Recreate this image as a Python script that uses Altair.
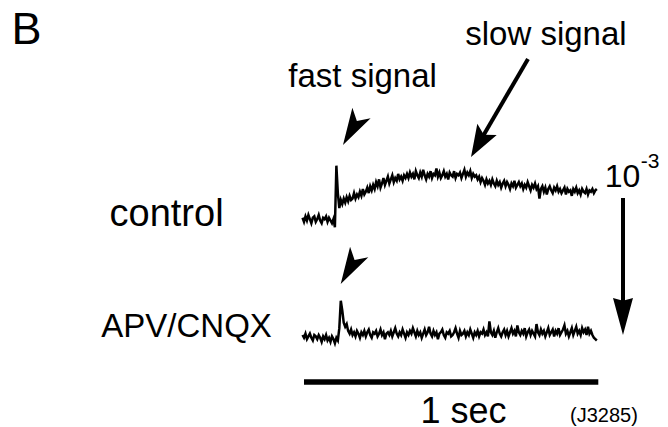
import altair as alt
import pandas as pd

# ---------------- data (signal in units of 1e-3 dF/F, time in s) ----------------
T_START = -0.005
DT = 0.005

control = [
    -0.02, -0.05, -0.01, -0.04, 0.00, -0.03, -0.06, -0.02, -0.01, -0.05, -0.03,
    0.00, -0.04, -0.06, -0.02, -0.03, -0.01, -0.05, -0.02, -0.04, -0.06, -0.03,
    -0.09,
    0.36,
    0.16,
    0.05,
    0.11, 0.08, 0.12, 0.09, 0.13, 0.10, 0.14, 0.11, 0.12, 0.16, 0.12,
    0.15, 0.13, 0.17, 0.14, 0.19, 0.15, 0.17, 0.20, 0.16, 0.21, 0.18,
    0.22, 0.19, 0.24, 0.21, 0.26, 0.20, 0.23, 0.27, 0.22, 0.25, 0.28, 0.23,
    0.26, 0.29, 0.24, 0.27, 0.25, 0.30, 0.26, 0.28, 0.25, 0.29, 0.27, 0.30,
    0.27, 0.31, 0.28, 0.30, 0.26, 0.32, 0.29, 0.27, 0.31, 0.28, 0.33, 0.29, 0.26, 0.30,
    0.28, 0.32, 0.27, 0.30, 0.29, 0.34, 0.28, 0.31, 0.27, 0.29, 0.32, 0.28, 0.30, 0.26,
    0.31, 0.29, 0.28, 0.32, 0.27, 0.30, 0.29, 0.31, 0.27, 0.30, 0.33, 0.28, 0.31, 0.29,
    0.32, 0.27, 0.30, 0.28, 0.29, 0.26, 0.28, 0.24, 0.27, 0.25, 0.22, 0.26, 0.23, 0.25,
    0.22, 0.26, 0.23, 0.21, 0.25, 0.22, 0.24, 0.20, 0.23, 0.25, 0.21, 0.24,
    0.22, 0.19, 0.23, 0.21, 0.25, 0.20, 0.22, 0.24, 0.21, 0.23, 0.19, 0.22,
    0.20, 0.24, 0.21, 0.18, 0.22, 0.20, 0.23, 0.19, 0.21, 0.12,
    0.19, 0.21, 0.17, 0.20, 0.15, 0.19, 0.21, 0.18, 0.16, 0.20, 0.18, 0.21, 0.17,
    0.19, 0.16, 0.18, 0.20, 0.15, 0.19, 0.17, 0.18, 0.14, 0.19, 0.17, 0.20, 0.16,
    0.18, 0.15, 0.19, 0.17, 0.16, 0.19, 0.15, 0.18, 0.17, 0.19, 0.16, 0.18, 0.19,
]

apv_cnqx = [
    0.00, -0.02, 0.01, -0.03, -0.01, 0.01, -0.02, -0.04, 0.00, -0.01, -0.03, 0.00, -0.02,
    -0.05, -0.01, -0.03, 0.00, -0.04, -0.02, -0.05, -0.01, -0.03, -0.06, -0.02, -0.04,
    0.05, 0.25, 0.18, 0.09, 0.06, 0.08, 0.03,
    0.01, 0.04, 0.00, 0.02, -0.01, 0.03, 0.01, -0.02, 0.02, 0.00, 0.03, -0.01, 0.02,
    0.04, 0.00, -0.02, 0.02, 0.01, 0.03, -0.01, 0.01, 0.04, 0.00, 0.02, -0.03, 0.01,
    0.02, 0.00, 0.03, -0.01, 0.02, 0.05, 0.01, -0.01, 0.02, 0.00, 0.04, 0.01, -0.02,
    0.02, 0.00, 0.03, 0.01, 0.05, 0.02, -0.01, 0.03, 0.00, 0.02, -0.02, 0.01, 0.04,
    0.00, 0.02, 0.06, 0.01, -0.01, 0.03, 0.00, 0.02, -0.03, 0.01, 0.02, 0.04, 0.00,
    -0.02, 0.02, 0.01, 0.03, -0.01, 0.00, 0.02, 0.05, 0.01, -0.02, 0.03, 0.00, 0.01,
    0.03, -0.01, 0.02, 0.00, 0.04, 0.01, -0.02, 0.02, 0.00, 0.03, -0.01, 0.02, 0.01,
    0.04, 0.00, 0.02, -0.01, 0.10, 0.02, 0.00, 0.03, -0.02, 0.02, 0.05, 0.01, -0.01,
    0.02, 0.04, 0.00, 0.03, -0.01, 0.02, 0.05, 0.01, 0.03, -0.01, 0.07, 0.02, 0.00,
    0.03, 0.01, 0.05, -0.01, 0.02, 0.04, 0.00, 0.03, 0.01, -0.01, 0.08, 0.02, 0.00,
    0.04, 0.01, 0.03, -0.01, 0.02, 0.05, 0.00, 0.02, 0.04, -0.01, 0.03, 0.01, 0.05,
    0.00, 0.02, 0.04, 0.07, 0.01, 0.03, -0.01, 0.02, 0.05, 0.00, 0.03, 0.06, 0.01,
    0.03, 0.00, 0.05, 0.02, 0.04, 0.00, 0.06, 0.01, 0.03, 0.00, -0.02, -0.03, -0.04,
]

APV_OFFSET = -0.876   # vertical display offset of the lower trace

label_text = ["B", "fast signal", "slow signal", "control", "APV/CNQX",
              "10", "-3", "1 sec", "(J3285)"]
label_x = [-0.943, 0.199, 0.822, -0.467, -0.399, 1.082, 1.176, 0.542, 1.019]
label_y = [1.248, 0.934, 1.241, -0.078, -0.890, 0.204, 0.341, -1.516, -1.509]
label_size = [45, 33, 33, 38, 33, 32, 21, 36, 20]

# ---------------- tables ----------------
rows = []
for i, v in enumerate(control):
    rows.append({"t": T_START + i * DT, "v": v, "trace": "control"})
for i, v in enumerate(apv_cnqx):
    rows.append({"t": T_START + i * DT, "v": v + APV_OFFSET, "trace": "APV/CNQX"})
traces = pd.DataFrame(rows)

labels = pd.DataFrame({"x": label_x, "y": label_y, "text": label_text, "size": label_size})

shafts = pd.DataFrame({
    "x": [0.7611, 1.0839, 0.0],
    "y": [1.1387, 0.1241, -1.219],
    "x2": [0.5946, 1.0839, 1.0],
    "y2": [0.5255, -0.75, -1.219],
    "w": [4, 4, 5.5],
})

fast_heads = pd.DataFrame({"x": [0.1325, 0.1247], "y": [0.5109, -0.5036], "angle": [210, 210]})
slow_head = pd.DataFrame({"x": [0.5675], "y": [0.4234], "angle": [210]})
vert_head = pd.DataFrame({"x": [1.0839], "y": [-0.8759], "angle": [180]})

XS = alt.Scale(domain=[-1.00578, 1.20965], nice=False, zero=False)
YS = alt.Scale(domain=[-1.54745, 1.51095], nice=False, zero=False)
FONT = "Liberation Sans"

line = alt.Chart(traces).mark_line(color="black", strokeWidth=2.5).encode(
    x=alt.X("t:Q", scale=XS, axis=None),
    y=alt.Y("v:Q", scale=YS, axis=None),
    detail="trace:N",
)

text = alt.Chart(labels).mark_text(
    font=FONT, color="black", align="center", baseline="alphabetic"
).encode(
    x=alt.X("x:Q", scale=XS, axis=None),
    y=alt.Y("y:Q", scale=YS, axis=None),
    text="text:N",
    size=alt.Size("size:Q", scale=None, legend=None),
)

rules = alt.Chart(shafts).mark_rule(color="black", strokeCap="butt").encode(
    x=alt.X("x:Q", scale=XS, axis=None),
    y=alt.Y("y:Q", scale=YS, axis=None),
    x2="x2:Q",
    y2="y2:Q",
    strokeWidth=alt.StrokeWidth("w:Q", scale=None, legend=None),
)


def heads(df, path, length):
    return alt.Chart(df).mark_point(
        shape=path, filled=True, color="black", opacity=1, strokeWidth=0, size=length * length
    ).encode(
        x=alt.X("x:Q", scale=XS, axis=None),
        y=alt.Y("y:Q", scale=YS, axis=None),
        angle=alt.Angle("angle:Q", scale=None),
    )


FAST_PATH = "M0,0 L0.57,2 L0,1.5 L-0.57,2 Z"
SLOW_PATH = "M0,0 L0.7,2 L0,1.6 L-0.7,2 Z"
VERT_PATH = "M0,0 L0.54,2 L0,1.85 L-0.54,2 Z"

chart = alt.layer(
    line,
    rules,
    heads(fast_heads, FAST_PATH, 37),
    heads(slow_head, SLOW_PATH, 32),
    heads(vert_head, VERT_PATH, 37),
    text,
).properties(
    width=652, height=419, padding=0, autosize=alt.AutoSizeParams(type="none"),
    background="white",
).configure_view(stroke=None)

chart.save("out.html", embed_options={"renderer": "svg", "actions": False})
